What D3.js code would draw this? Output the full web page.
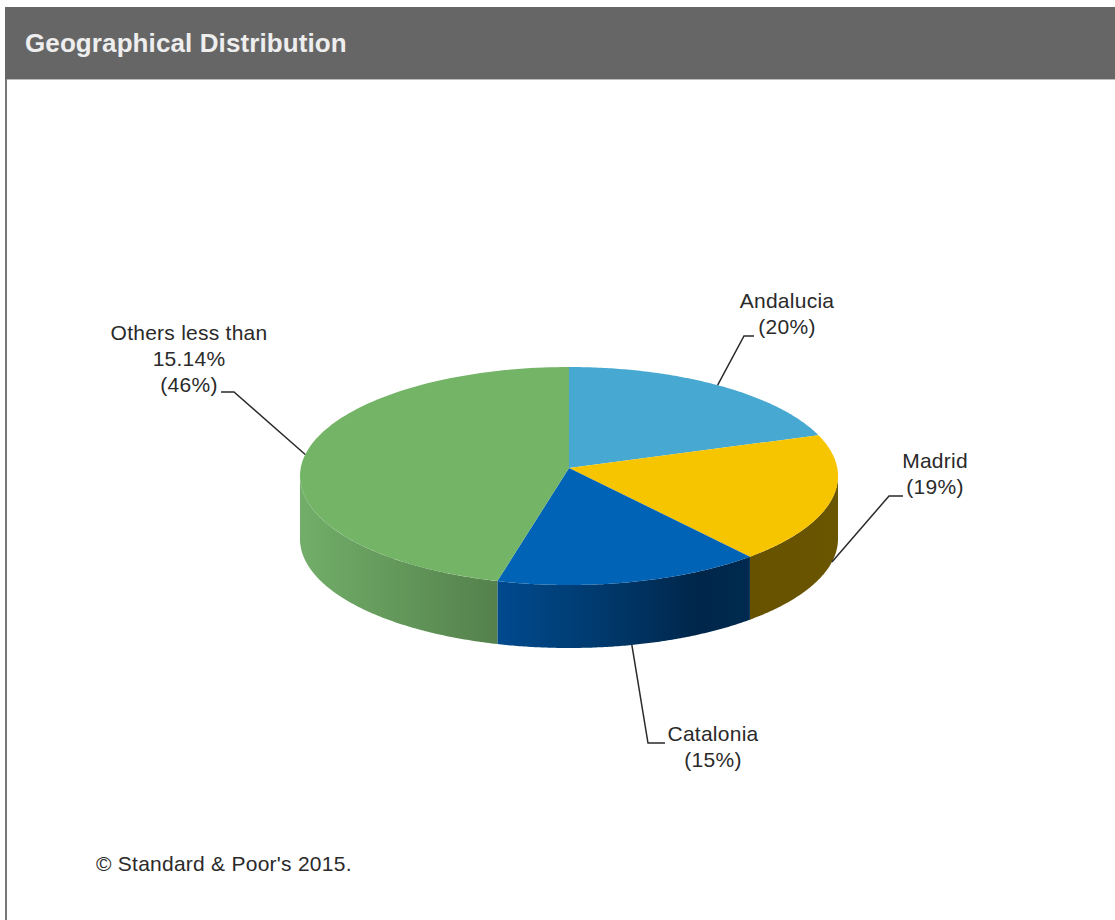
<!DOCTYPE html>
<html>
<head>
<meta charset="utf-8">
<title>Geographical Distribution</title>
<script src="https://cdn.jsdelivr.net/npm/d3@7"></script>
<style>
  html, body { margin: 0; padding: 0; background: #fff; }
  svg { display: block; }
  text { font-family: "Liberation Sans", Arial, sans-serif; fill: #2a2a2a; }
</style>
</head>
<body>
<svg id="chart" width="1115" height="920"></svg>
<script>
// Chart content
const regions = ["Andalucia", "Madrid", "Catalonia", "Others less than 15.14%"];
const shares = [20, 19, 15, 46];
const labelLines = [
  ["Andalucia", "(20%)"],
  ["Madrid", "(19%)"],
  ["Catalonia", "(15%)"],
  ["Others less than", "15.14%", "(46%)"]
];
const titleText = "Geographical Distribution";
const footerText = "© Standard & Poor's 2015.";

// Pie geometry
const W = 1115, H = 920;
const cx = 569, cy = 476, rx = 269, ry = 109, depth = 63;
const apex = [569, 468];          // hub sits above the rim centre because of perspective
const perspective = 0.073;        // pulls rim angles towards the far edge

const topColors = ["#47a8d1", "#f7c500", "#0063b5", "#73b467"];
const sideStops = [
  [["0%", "#665200"], ["100%", "#6a5500"]],
  [["0%", "#665200"], ["100%", "#6a5500"]],
  [["0%", "#004a8e"], ["40%", "#003a6e"], ["80%", "#00264a"], ["100%", "#002a50"]],
  [["0%", "#72ae69"], ["100%", "#54814c"]]
];

// Label placement: text centre x, first baseline, and the leader's elbow and end
const layout = [
  { x: 787, y: 308, elbow: [744, 336], end: [754, 336], base: false },
  { x: 935, y: 468, elbow: [889, 496], end: [903, 496], base: true },
  { x: 713, y: 741, elbow: [648, 743], end: [665, 743], base: true },
  { x: 189, y: 340, elbow: [234, 392], end: [221, 392], base: false }
];

const svg = d3.select("#chart");
const defs = svg.append("defs");

// Page frame and header band
svg.append("rect").attr("x", 5).attr("y", 7).attr("width", W - 5).attr("height", H - 7)
  .attr("fill", "#fff");
svg.append("rect").attr("x", 5).attr("y", 7).attr("width", 2).attr("height", H - 7)
  .attr("fill", "#777");
svg.append("rect").attr("x", 5).attr("y", 7).attr("width", W - 5).attr("height", 72)
  .attr("fill", "#666666");
svg.append("rect").attr("x", 7).attr("y", 79).attr("width", W - 7).attr("height", 1)
  .attr("fill", "#bbb");
svg.append("text").attr("x", 25).attr("y", 52)
  .attr("font-size", 26).attr("font-weight", 700).attr("letter-spacing", 0.1)
  .style("fill", "#eeeeee").text(titleText);

// Turn a pie angle (clockwise from the top) into a rim angle, then a rim point
const warp = a => a - perspective * Math.sin(a);
const rim = (a, dy = 0) => [cx + rx * Math.sin(a), cy - ry * Math.cos(a) + dy];

const slices = d3.pie().value(d => d).sort(null)(shares);
const line = d3.line();
const arcPoints = (a0, a1, dy = 0) =>
  d3.range(0, 121).map(i => rim(a0 + (a1 - a0) * i / 120, dy));

// Walls: only the part of each slice that faces the viewer
slices.forEach((s, i) => {
  const a0 = Math.max(warp(s.startAngle), Math.PI / 2);
  const a1 = Math.min(warp(s.endAngle), 3 * Math.PI / 2);
  if (a1 <= a0) return;
  const upper = arcPoints(a0, a1);
  const lower = arcPoints(a1, a0, depth);
  const xs = upper.map(p => p[0]);
  const grad = defs.append("linearGradient")
    .attr("id", `wall-${i}`)
    .attr("gradientUnits", "userSpaceOnUse")
    .attr("x1", d3.min(xs)).attr("x2", d3.max(xs))
    .attr("y1", 0).attr("y2", 0);
  // stops run left to right across the wall
  grad.selectAll("stop").data(sideStops[i]).join("stop")
    .attr("offset", d => d[0]).attr("stop-color", d => d[1]);
  svg.append("path")
    .attr("d", line(upper.concat(lower)) + "Z")
    .attr("fill", `url(#wall-${i})`);
});

// Top faces
slices.forEach((s, i) => {
  const pts = [apex].concat(arcPoints(warp(s.startAngle), warp(s.endAngle)));
  svg.append("path")
    .attr("d", line(pts) + "Z")
    .attr("fill", topColors[i]);
});

// Leader lines from each slice's mid-angle to its label
slices.forEach((s, i) => {
  const l = layout[i];
  const mid = warp((s.startAngle + s.endAngle) / 2);
  const start = rim(mid, l.base ? depth : 0);
  svg.append("path")
    .attr("d", line([start, l.elbow, l.end]))
    .attr("fill", "none").attr("stroke", "#2a2a2a").attr("stroke-width", 1.5);
});

// Labels
labelLines.forEach((lines, i) => {
  const l = layout[i];
  const t = svg.append("text")
    .attr("text-anchor", "middle")
    .attr("font-size", 21)
    .attr("letter-spacing", 0.25);
  t.selectAll("tspan").data(lines).join("tspan")
    .attr("x", l.x)
    .attr("y", (d, j) => l.y + j * 26)
    .text(d => d);
});

// Source line
svg.append("text").attr("x", 96).attr("y", 871)
  .attr("font-size", 21).attr("letter-spacing", 0.25).text(footerText);
</script>
</body>
</html>
